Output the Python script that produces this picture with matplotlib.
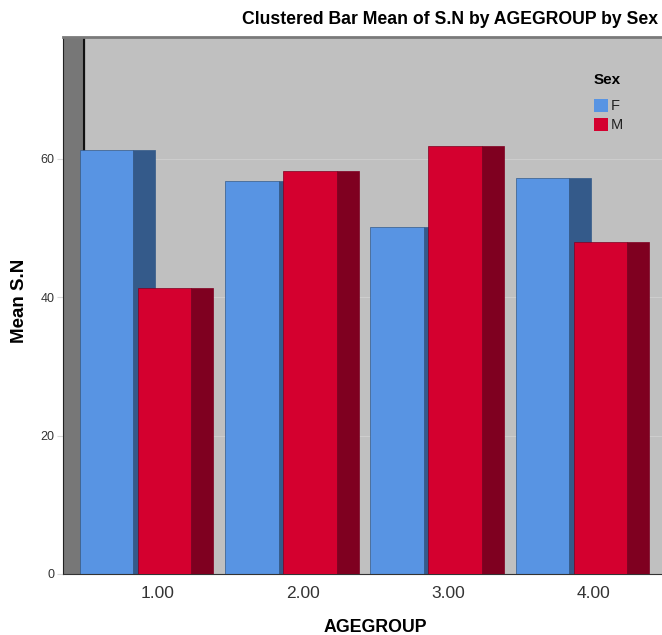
import numpy as np
import matplotlib
matplotlib.use('Agg')
import matplotlib.pyplot as plt
from matplotlib.patches import Rectangle

# data
groups = ['1.00', '2.00', '3.00', '4.00']
sexes = ['F', 'M']
mean_f = [61.2, 56.8, 50.2, 57.2]
mean_m = [41.3, 58.2, 61.9, 48.0]

front = {'F': '#5894e3', 'M': '#d4002f'}
side = {'F': '#345a8a', 'M': '#7f0020'}

plt.rcParams['font.family'] = ['Liberation Sans', 'DejaVu Sans']

fig = plt.figure(figsize=(6.62, 6.35), dpi=100)
ax = fig.add_axes([63 / 662, 61 / 635, 599 / 662, 537 / 635])
ax.set_facecolor('#c0c0c0')

x = np.arange(1, len(groups) + 1)
ax.set_xlim(0.346, 4.468)
ax.set_ylim(0, 77.6)

# left wall of the 3d box
ax.axvspan(0.346, 0.49, color='#777777', zorder=1)
ax.axvline(0.49, color='#111111', lw=1.5, zorder=1)

for yv in [20, 40, 60]:
    ax.axhline(yv, color='#cdcdcd', lw=0.8, zorder=0.5)

w = 0.37
depth = 0.15
offs = {'F': -0.54, 'M': -0.14}
for k, (sx, vals) in enumerate(zip(sexes, [mean_f, mean_m])):
    for xi, v in zip(x, vals):
        x0 = xi + offs[sx]
        z = 2 + k
        ax.add_patch(Rectangle((x0, 0), w, v, facecolor=front[sx],
                               edgecolor=side[sx], lw=0.5, zorder=z))
        ax.add_patch(Rectangle((x0 + w, 0), depth, v, facecolor=side[sx],
                               edgecolor=side[sx], lw=0.5, zorder=z))

ax.set_xticks(x)
ax.set_xticklabels(groups, fontsize=12.5, color='#333333')
ax.tick_params(axis='x', length=0, pad=9)
ax.set_yticks([0, 20, 40, 60])
ax.set_yticklabels(['0', '20', '40', '60'], fontsize=9, color='#333333')
ax.tick_params(axis='y', length=4, color='#d8d8d8', pad=2)

ax.spines['right'].set_visible(False)
ax.spines['top'].set_color('#7a7a7a')
ax.spines['top'].set_linewidth(2)
ax.spines['left'].set_color('#222222')
ax.spines['bottom'].set_color('#333333')

fig.text(375 / 662, 1 - 627 / 635, 'AGEGROUP', fontsize=12.8,
         fontweight='bold', ha='center', va='center')
fig.text(20 / 662, 1 - 301 / 635, 'Mean S.N', fontsize=13.5,
         fontweight='bold', ha='center', va='center', rotation=90)

fig.text(658 / 662, 1 - 24 / 635, 'Clustered Bar Mean of S.N by AGEGROUP by Sex',
         ha='right', va='baseline', fontsize=12.7, fontweight='bold')

# legend
ax.text(0.885, 0.92, 'Sex', transform=ax.transAxes, fontsize=11,
        fontweight='bold', va='center', ha='left', zorder=6)
for i, sx in enumerate(sexes):
    yb = 0.860 - i * 0.035
    ax.add_patch(Rectangle((0.886, yb), 0.0234, 0.0242, transform=ax.transAxes,
                           facecolor=front[sx], edgecolor='none', zorder=6))
    ax.text(0.914, yb + 0.012, sx, transform=ax.transAxes, fontsize=10.5,
            va='center', ha='left', color='#222222', zorder=6)

fig.savefig('out.png', dpi=100)
